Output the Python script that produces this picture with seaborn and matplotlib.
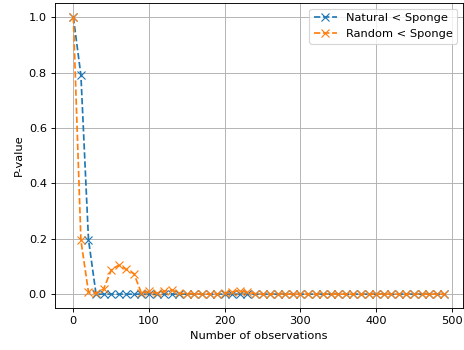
import numpy as np
import pandas as pd
import matplotlib
matplotlib.use('Agg')
import matplotlib.pyplot as plt
import seaborn as sns

# Số quan sát
n_obs = list(range(0, 500, 10))

natural_p = [1.0, 0.79, 0.198] + [0.001] * 47

random_p = [1.0, 0.195, 0.008, 0.004, 0.02, 0.087, 0.106, 0.09, 0.075, 0.004,
            0.011, 0.004, 0.012, 0.016, 0.004, 0.002, 0.002, 0.001, 0.001, 0.002,
            0.005, 0.009, 0.014, 0.007, 0.003, 0.001, 0.001, 0.001, 0.001, 0.001,
            0.001, 0.001, 0.001, 0.001, 0.001, 0.001, 0.001, 0.001, 0.001, 0.001,
            0.001, 0.001, 0.001, 0.001, 0.001, 0.001, 0.001, 0.001, 0.001, 0.001]

df = pd.DataFrame({
    'n': n_obs * 2,
    'p': natural_p + random_p,
    'series': ['Natural < Sponge'] * len(n_obs) + ['Random < Sponge'] * len(n_obs),
})

dpi = 82
fig = plt.figure(figsize=(464 / dpi, 350 / dpi), dpi=dpi)
ax = fig.add_axes([54.8 / 464, 1 - 308 / 350, (462.8 - 54.8) / 464, (308 - 3.2) / 350])
palette = ['tab:blue', 'tab:orange']
sns.lineplot(data=df, x='n', y='p', hue='series', palette=palette, ax=ax,
             marker='x', markeredgecolor=None, legend=False)
for line, c in zip(ax.lines, palette):
    line.set_linestyle('--')
    line.set_marker('x')
    line.set_markeredgecolor(c)
    line.set_markerfacecolor(c)
    line.set_markersize(7)
    line.set_markeredgewidth(1.0)
    line.set_linewidth(1.5)
    line.set_label(None)
ax.lines[0].set_label('Natural < Sponge')
ax.lines[1].set_label('Random < Sponge')
ax.set_xlabel('Number of observations')
ax.set_ylabel('P-value')
ax.grid(True)
ax.legend(loc='upper right')
plt.savefig('out.png', dpi=dpi)
